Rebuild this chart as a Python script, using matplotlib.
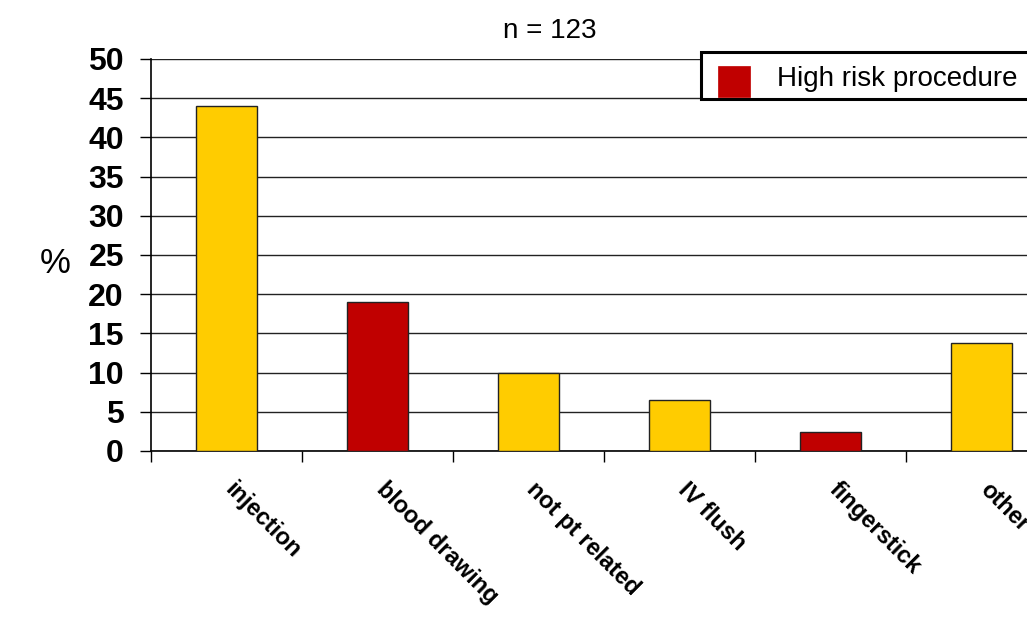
import matplotlib
matplotlib.use("Agg")
import matplotlib.pyplot as plt
from matplotlib.patches import Rectangle
from matplotlib.transforms import offset_copy
import numpy as np

categories = ["injection", "blood drawing", "not pt related", "IV flush", "fingerstick", "other"]
values = [44.0, 19.0, 10.0, 6.5, 2.4, 13.8]
high_risk = [False, True, False, False, True, False]
yticks = [0, 5, 10, 15, 20, 25, 30, 35, 40, 45, 50]
legend_label = "High risk procedure"

YELLOW = "#FFCC00"
RED = "#C00000"

plt.rcParams["font.family"] = ["Liberation Sans", "DejaVu Sans"]

W, H = 1027, 624
fig = plt.figure(figsize=(W / 100, H / 100), dpi=100)
# axes: left 151px, bottom 451px, top 59px, width 6*151 px (extends beyond figure)
ax = fig.add_axes([151 / W, (H - 451) / H, 906 / W, 392 / H])

x = np.arange(len(categories)) + 0.5
colors = [RED if h else YELLOW for h in high_risk]
ax.bar(x, values, width=0.4, color=colors, edgecolor="#222222", linewidth=1, zorder=3)

ax.set_xlim(0, len(categories))
ax.set_ylim(0, 50)
ax.set_yticks(yticks)
ax.set_yticklabels([str(t) for t in yticks], fontsize=23, fontweight="bold")
ax.tick_params(axis="y", length=8, width=1, direction="out", pad=11.5)

ax.set_xticks(np.arange(len(categories) + 1))
ax.set_xticklabels([])
ax.tick_params(axis="x", length=8, width=1, direction="out")

ax.grid(axis="y", color="#222222", linewidth=1, zorder=0)
ax.set_axisbelow(True)
for s in ["top", "right"]:
    ax.spines[s].set_visible(False)
ax.spines["left"].set_linewidth(1.2)
ax.spines["bottom"].set_linewidth(1.2)

# category labels
trans = offset_copy(ax.get_xaxis_transform(), fig=fig, x=-6, y=-27, units="dots")
for xi, lab in zip(x, categories):
    ax.text(xi, 0, lab, transform=trans, rotation=-45, ha="left", va="top",
            fontsize=17, fontweight="bold")

fig.text(55 / W, 1 - 263 / H, "%", fontsize=25, ha="center", va="center")
fig.text(550 / W, 1 - 31 / H, "n = 123", fontsize=20, ha="center", va="center")

# legend (box extends past the right edge, as in the reference)
fig.patches.append(Rectangle((701 / W, 1 - 99 / H), 345 / W, 47 / H, transform=fig.transFigure,
                             facecolor="white", edgecolor="black", linewidth=2.2, zorder=5))
fig.patches.append(Rectangle((718 / W, 1 - 97 / H), 32 / W, 31 / H, transform=fig.transFigure,
                             facecolor=RED, edgecolor=RED, linewidth=0.5, zorder=6))
fig.text(777 / W, 1 - 79 / H, legend_label, fontsize=20, ha="left", va="center", zorder=7)

fig.savefig("out.png", dpi=100)
